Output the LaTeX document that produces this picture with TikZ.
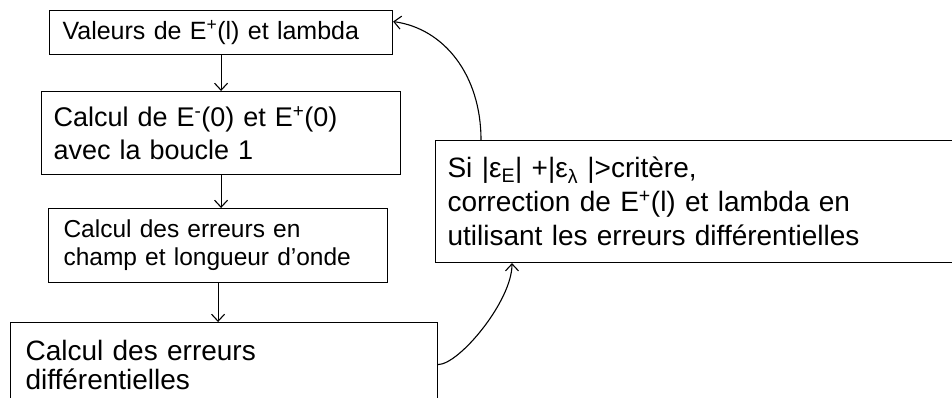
\documentclass[tikz,border=0pt]{standalone}
\usepackage{fontspec}
\setmainfont{Liberation Sans}
\usetikzlibrary{arrows.meta}

\begin{document}
\begin{tikzpicture}[x=1pt, y=-1pt, line width=1.1pt,
  box/.style={draw, rectangle, anchor=north west, align=left, inner ysep=0pt},
  arr/.style={-{Straight Barb[length=7pt, width=13pt]}}]
\useasboundingbox (0,0) rectangle (952,398);
\clip (0,0) rectangle (952,398);

% Boxes of the loop
\node (vals) [box, text width=317pt, inner xsep=13pt, minimum height=44pt, font=\fontsize{25}{30}\selectfont] at ( 49, 10) {Valeurs de E\textsuperscript{+}(l) et lambda};
\node (cal)  [box, text width=335pt, inner xsep=12pt, minimum height=83pt, font=\fontsize{27}{33}\selectfont] at ( 41, 91) {Calcul de E\textsuperscript{-}(0) et E\textsuperscript{+}(0)\\avec la boucle 1};
\node (err)  [box, text width=309pt, inner xsep=15pt, minimum height=74pt, font=\fontsize{24.5}{28}\selectfont] at ( 48,208) {Calcul des erreurs en\\champ et longueur d’onde};
\node (diff) [box, text width=397pt, inner xsep=15pt, minimum height=84pt, font=\fontsize{28}{29}\selectfont] at ( 10,322) {Calcul des erreurs\\différentielles};

% Correction
\node (corr) [box, text width=506pt, inner xsep=12pt, minimum height=122pt, font=\fontsize{28}{34}\selectfont] at (435,140) {Si |ε\textsubscript{E}| +|ε\textsubscript{λ} |>critère,\\correction de E\textsuperscript{+}(l) et lambda en\\utilisant les erreurs différentielles};

% Connections
\draw [arr] (vals.south) -- (vals.south |- cal.north);
\draw [arr] (cal.south) -- (cal.south |- err.north);
\draw [arr] (err.south) -- (err.south |- diff.north);
\draw [arr] (diff.east) .. controls +(21,0) and +(0,38) .. ([xshift=77pt]corr.south west);
\draw [arr] ([xshift=46pt]corr.north west) .. controls +(0,-65) and +(51,7) .. ([yshift=11pt]vals.east);

\end{tikzpicture}
\end{document}
